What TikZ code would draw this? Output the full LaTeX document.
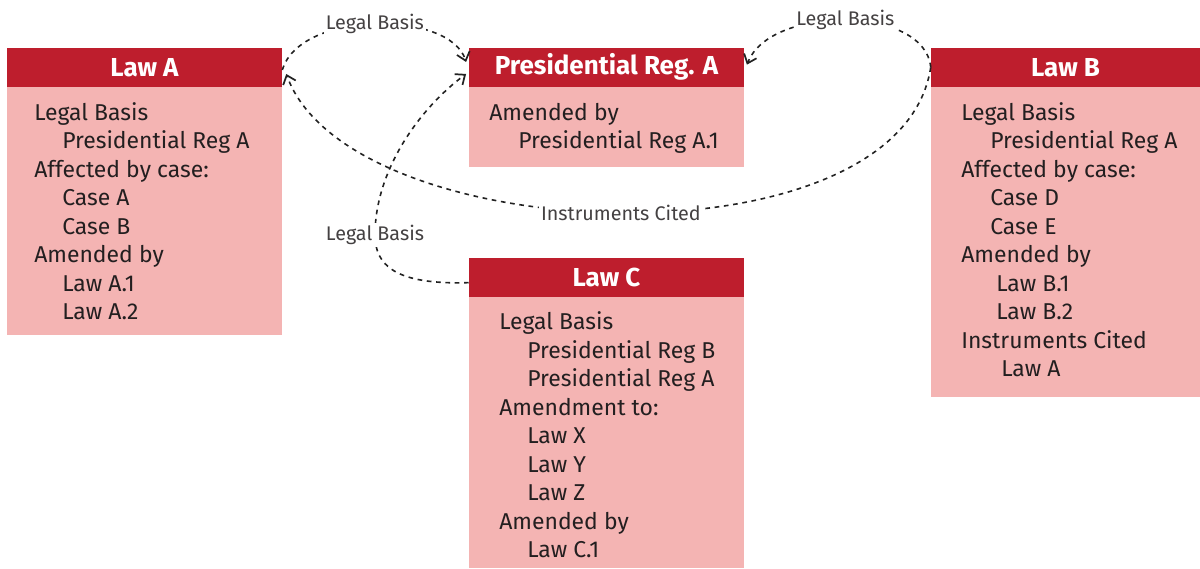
\documentclass[tikz,border=0pt]{standalone}
\usepackage{fontspec}
\usepackage{xcolor}
\usepackage{tikz}
\usetikzlibrary{arrows.meta}
\setmainfont{Fira Sans}

\definecolor{lawred}{HTML}{BE1E2D}
\definecolor{lawpink}{HTML}{F4B4B3}
\definecolor{ink}{HTML}{231F20}
\definecolor{linkgray}{HTML}{222222}

\begin{document}
\begin{tikzpicture}[x=0.75pt, y=-0.75pt,
    header/.style={fill=lawred, text=white, font=\bfseries\fontsize{19.5}{22}\selectfont,
        minimum width=206.25pt, minimum height=29pt, inner sep=0pt},
    body/.style={fill=lawpink, minimum width=206.25pt, inner sep=0pt, anchor=north},
    item/.style={anchor=base west, inner sep=0pt, text=ink, font=\fontsize{17.2}{20}\selectfont},
    link/.style={linkgray, line width=1.2pt, dash pattern=on 3.5pt off 3.5pt, -{Straight Barb[length=6pt, width=10pt, line width=1.3pt]}},
    tag/.style={fill=white, text=ink!85, inner sep=1.5pt, font=\fontsize{14.8}{17}\selectfont}]

    \useasboundingbox (0,0) rectangle (1200,568);

    % Law A
    \node[header] (lawA) at (144.5,67.3) {Law A};
    \node[body, minimum height=186pt] (lawAbody) at (lawA.south) {};
    \foreach \t/\xx [count=\i] in {Legal Basis/34, Presidential Reg A/62, Affected by case:/34,
        Case A/62, Case B/62, Amended by/34, Law A.1/62, Law A.2/62}
        \node[item] (lawA-\i) at (\xx, 91.5+28.5*\i) {\t};

    % Presidential Reg. A
    \node[header] (presA) at (606.5,67.3) {Presidential Reg. A};
    \node[body, minimum height=60pt] (presAbody) at (presA.south) {};
    \foreach \t/\xx [count=\i] in {Amended by/489, Presidential Reg A.1/518}
        \node[item] (presA-\i) at (\xx, 91.5+28.5*\i) {\t};

    % Law B
    \node[header, minimum width=201.75pt] (lawB) at (1065.5,67.3) {Law B};
    \node[body, minimum width=201.75pt, minimum height=232.5pt] (lawBbody) at (lawB.south) {};
    \foreach \t/\xx [count=\i] in {Legal Basis/961, Presidential Reg A/990, Affected by case:/961,
        Case D/990, Case E/990, Amended by/961, Law B.1/996, Law B.2/996,
        Instruments Cited/961, Law A/1001}
        \node[item] (lawB-\i) at (\xx, 91.5+28.5*\i) {\t};

    % Law C
    \node[header] (lawC) at (606.5,277.3) {Law C};
    \node[body, minimum height=203.4pt] (lawCbody) at (lawC.south) {};
    \foreach \t/\xx [count=\i] in {Legal Basis/499, Presidential Reg B/527, Presidential Reg A/527,
        Amendment to:/499, Law X/527, Law Y/527, Law Z/527, Amended by/499, Law C.1/527}
        \node[item] (lawC-\i) at (\xx, 301+28.5*\i) {\t};

    % Links
    \draw[link] ([yshift=-2pt]lawA.east) .. controls (300,10) and (450,10) .. ([xshift=-2pt, yshift=4pt]presA.west)
        node[tag, pos=0.5] (tagAP) {Legal Basis};
    \draw[link] (lawB.west) .. controls (925,5) and (770,5) .. ([xshift=2pt, yshift=2pt]presA.east)
        node[tag, pos=0.5] (tagBP) {Legal Basis};
    \draw[link] (lawB.west) .. controls (900,270) and (350,250) .. ([xshift=3pt, yshift=-5pt]lawA.east)
        node[tag, pos=0.5] (tagBA) {Instruments Cited};
    \draw[link] ([yshift=-4pt]lawC.west) .. controls (395,285) and (375,265) .. (375,235)
        .. controls (375,170) and (420,108) .. ([xshift=-2pt, yshift=-5pt]presA.west);
    \node[tag] (tagCP) at (375,235) {Legal Basis};
\end{tikzpicture}
\end{document}
